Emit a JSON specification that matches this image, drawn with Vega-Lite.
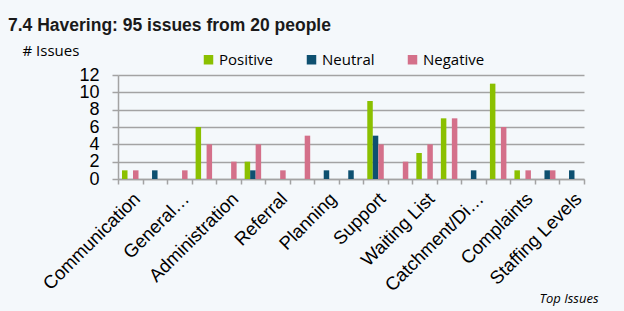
{
  "$schema": "https://vega.github.io/schema/vega-lite/v6.json",
  "autosize": "none",
  "width": 466,
  "height": 104,
  "padding": {"left": 118, "top": 75, "right": 40, "bottom": 132},
  "background": "#f4f8fb",
  "title": {
    "text": "7.4 Havering: 95 issues from 20 people",
    "anchor": "start",
    "frame": "group",
    "font": "Liberation Sans",
    "fontSize": 17.5,
    "fontWeight": "bold",
    "color": "#1a1a1a",
    "dx": -110,
    "offset": 9
  },
  "data": {
    "values": [
      {"issue": "Communication", "sentiment": "Positive", "count": 1},
      {"issue": "Communication", "sentiment": "Negative", "count": 1},
      {"issue": "Issue 2", "sentiment": "Neutral", "count": 1},
      {"issue": "General…", "sentiment": "Negative", "count": 1},
      {"issue": "Issue 4", "sentiment": "Positive", "count": 6},
      {"issue": "Issue 4", "sentiment": "Negative", "count": 4},
      {"issue": "Administration", "sentiment": "Negative", "count": 2},
      {"issue": "Issue 6", "sentiment": "Positive", "count": 2},
      {"issue": "Issue 6", "sentiment": "Neutral", "count": 1},
      {"issue": "Issue 6", "sentiment": "Negative", "count": 4},
      {"issue": "Referral", "sentiment": "Negative", "count": 1},
      {"issue": "Issue 8", "sentiment": "Negative", "count": 5},
      {"issue": "Planning", "sentiment": "Neutral", "count": 1},
      {"issue": "Issue 10", "sentiment": "Neutral", "count": 1},
      {"issue": "Support", "sentiment": "Positive", "count": 9},
      {"issue": "Support", "sentiment": "Neutral", "count": 5},
      {"issue": "Support", "sentiment": "Negative", "count": 4},
      {"issue": "Issue 12", "sentiment": "Negative", "count": 2},
      {"issue": "Waiting List", "sentiment": "Positive", "count": 3},
      {"issue": "Waiting List", "sentiment": "Negative", "count": 4},
      {"issue": "Issue 14", "sentiment": "Positive", "count": 7},
      {"issue": "Issue 14", "sentiment": "Negative", "count": 7},
      {"issue": "Catchment/Di…", "sentiment": "Neutral", "count": 1},
      {"issue": "Issue 16", "sentiment": "Positive", "count": 11},
      {"issue": "Issue 16", "sentiment": "Negative", "count": 6},
      {"issue": "Complaints", "sentiment": "Positive", "count": 1},
      {"issue": "Complaints", "sentiment": "Negative", "count": 1},
      {"issue": "Issue 18", "sentiment": "Neutral", "count": 1},
      {"issue": "Issue 18", "sentiment": "Negative", "count": 1},
      {"issue": "Staffing Levels", "sentiment": "Neutral", "count": 1}
    ]
  },
  "mark": {"type": "bar"},
  "encoding": {
    "x": {
      "field": "issue",
      "type": "nominal",
      "sort": null,
      "scale": {"paddingInner": 0, "paddingOuter": 0},
      "axis": {
        "tickBand": "extent",
        "domainColor": "#a3a3a3",
        "domainWidth": 1.5,
        "tickColor": "#a3a3a3",
        "tickWidth": 1.5,
        "tickSize": 5,
        "labelAngle": -45,
        "labelAlign": "right",
        "labelBaseline": "top",
        "labelPadding": 5,
        "labelLimit": 0,
        "labelFont": "Liberation Sans",
        "labelFontSize": 18.5,
        "labelColor": "#000000",
        "labelOverlap": false,
        "labelExpr": "round(datum.index * 18) % 2 == 0 ? datum.label : ''",
        "title": "Top Issues",
        "titleFont": "Open Sans",
        "titleFontStyle": "italic",
        "titleFontWeight": "normal",
        "titleFontSize": 13,
        "titleColor": "#000000",
        "titleAlign": "right",
        "titleBaseline": "alphabetic",
        "titleX": 480,
        "titleY": 123
      }
    },
    "xOffset": {
      "field": "sentiment",
      "type": "nominal",
      "sort": ["Positive", "Neutral", "Negative"],
      "scale": {"paddingInner": 0, "paddingOuter": 0.73}
    },
    "y": {
      "field": "count",
      "type": "quantitative",
      "scale": {"domain": [0, 12], "nice": false},
      "axis": {
        "values": [0, 2, 4, 6, 8, 10, 12],
        "domain": true,
        "domainColor": "#a3a3a3",
        "domainWidth": 1.5,
        "tickColor": "#a3a3a3",
        "tickWidth": 1.5,
        "tickSize": 6,
        "gridColor": "#a3a3a3",
        "gridWidth": 1.5,
        "labelFont": "Liberation Sans",
        "labelFontSize": 18,
        "labelColor": "#000000",
        "labelPadding": 13,
        "labelOverlap": false,
        "labelFlush": false,
        "title": "# Issues",
        "titleAngle": 0,
        "titleAlign": "left",
        "titleBaseline": "middle",
        "titleX": -96,
        "titleY": -25,
        "titleFont": "Open Sans",
        "titleFontSize": 15,
        "titleFontWeight": "normal",
        "titleColor": "#000000"
      }
    },
    "color": {
      "field": "sentiment",
      "type": "nominal",
      "scale": {
        "domain": ["Positive", "Neutral", "Negative"],
        "range": ["#8bc000", "#0e5070", "#d4708a"]
      },
      "legend": {
        "orient": "none",
        "legendX": 83,
        "legendY": -23,
        "direction": "horizontal",
        "title": null,
        "symbolType": "square",
        "symbolSize": 90,
        "symbolStrokeWidth": 0,
        "labelFont": "Open Sans",
        "labelFontSize": 15,
        "labelColor": "#000000",
        "labelOffset": 3,
        "columnPadding": 30
      }
    }
  },
  "config": {"view": {"stroke": null}}
}
